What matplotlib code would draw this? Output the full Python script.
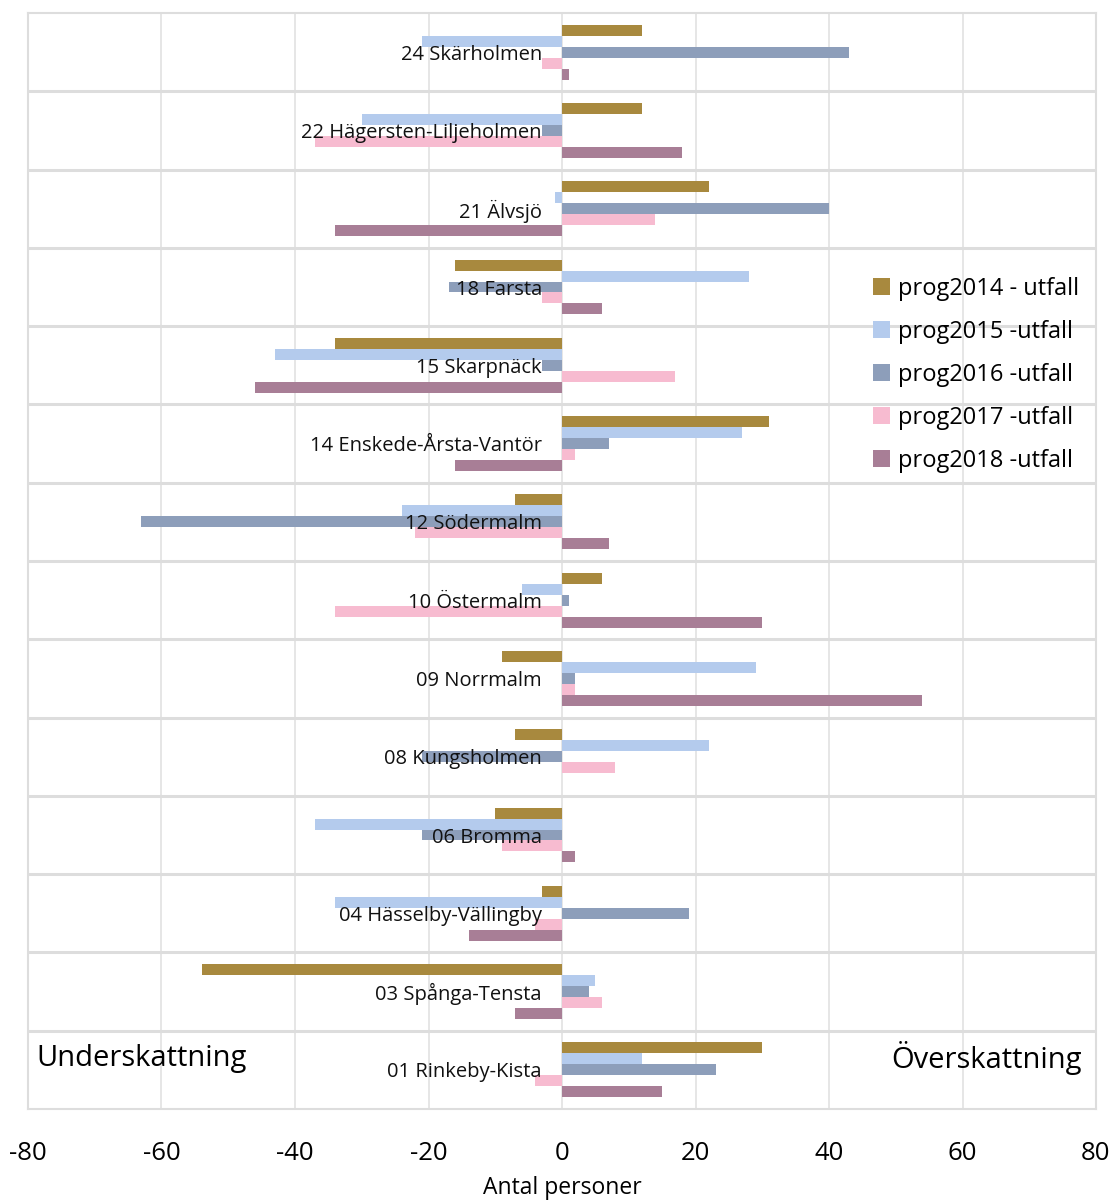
import numpy as np
import matplotlib
matplotlib.use("Agg")
import matplotlib.pyplot as plt

plt.rcParams["font.family"] = ["Open Sans", "DejaVu Sans"]
plt.rcParams["axes.unicode_minus"] = False

# stadsdelar, uppifrån och ned
omraden = ["24 Skärholmen", "22 Hägersten-Liljeholmen", "21 Älvsjö", "18 Farsta",
           "15 Skarpnäck", "14 Enskede-Årsta-Vantör", "12 Södermalm", "10 Östermalm",
           "09 Norrmalm", "08 Kungsholmen", "06 Bromma", "04 Hässelby-Vällingby",
           "03 Spånga-Tensta", "01 Rinkeby-Kista"]

prog2014 = [12, 12, 22, -16, -34, 31, -7, 6, -9, -7, -10, -3, -54, 30]
prog2015 = [-21, -30, -1, 28, -43, 27, -24, -6, 29, 22, -37, -34, 5, 12]
prog2016 = [43, -3, 40, -17, -3, 7, -63, 1, 2, -21, -21, 19, 4, 23]
prog2017 = [-3, -37, 14, -3, 17, 2, -22, -34, 2, 8, -9, -4, 6, -4]
prog2018 = [1, 18, -34, 6, -46, -16, 7, 30, 54, 0, 2, -14, -7, 15]

serier = [(prog2014, "prog2014 - utfall", "#A8893E"),
          (prog2015, "prog2015 -utfall", "#B4CBED"),
          (prog2016, "prog2016 -utfall", "#8D9EBA"),
          (prog2017, "prog2017 -utfall", "#F7BBD0"),
          (prog2018, "prog2018 -utfall", "#A87E96")]

fig = plt.figure(figsize=(11.16, 12.03), dpi=100)
ax = fig.add_axes([28 / 1116, 1 - 1109 / 1203, 1068 / 1116, 1096 / 1203])

y = np.arange(len(omraden))
h = 0.14
for j, (vals, name, c) in enumerate(serier):
    ax.barh(y + (j - 2) * h, vals, height=h, color=c, label=name, zorder=3)

for i, namn in enumerate(omraden):
    ax.text(-3, i, namn, ha="right", va="center_baseline", fontsize=14.5,
            color="#111111", zorder=4)

ax.set_xlim(-80, 80)
ax.set_ylim(len(omraden) - 0.5, -0.5)
ax.set_xticks(np.arange(-80, 81, 20))
ax.set_yticks([])
ax.set_yticks(np.arange(0.5, len(omraden) - 1, 1), minor=True)
ax.tick_params(axis="both", which="both", length=0)
ax.tick_params(axis="x", labelsize=18.5, pad=23)
ax.grid(axis="x", color="#E2E2E2", lw=1.2, zorder=0)
ax.grid(axis="y", which="minor", color="#DDDDDD", lw=2.2, zorder=0)
for s in ax.spines.values():
    s.set_color("#DDDDDD")
    s.set_linewidth(1.5)

ax.set_xlabel("Antal personer", fontsize=16.5, labelpad=7)

ax.text(0.008, 12.85, "Underskattning", transform=ax.get_yaxis_transform(),
        ha="left", va="center", fontsize=21)
ax.text(0.987, 12.85, "Överskattning", transform=ax.get_yaxis_transform(),
        ha="right", va="center", fontsize=21)

fig.legend(loc="upper left", bbox_to_anchor=(873 / 1116, 1 - 277 / 1203),
           frameon=False, fontsize=17, handlelength=0.7, handleheight=0.7,
           handletextpad=0.35, labelspacing=0.8, borderpad=0, borderaxespad=0)

fig.savefig("out.png", dpi=100)
